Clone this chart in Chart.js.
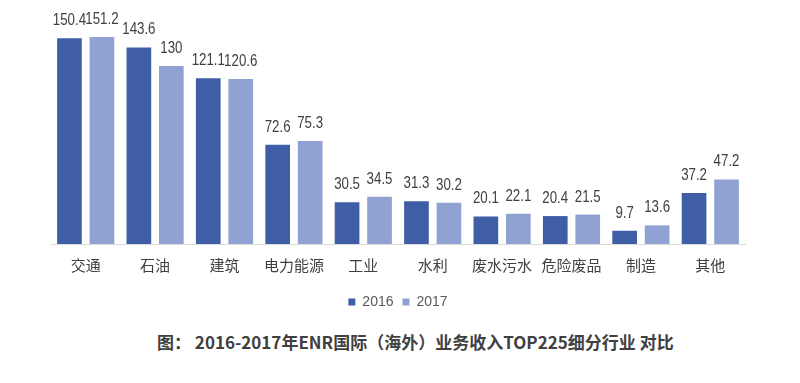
<!DOCTYPE html>
<html>
<head>
<meta charset="utf-8">
<script src="https://cdn.jsdelivr.net/npm/chart.js@4/dist/chart.umd.min.js"></script>
<style>
  html, body { margin: 0; padding: 0; background: #fff; }
  #wrap { position: relative; width: 800px; height: 383px; }
  #c { position: absolute; left: 0; top: 0; }
  #title { position: absolute; left: 157px; top: 329px; white-space: nowrap;
    font-family: "Noto Sans CJK SC", sans-serif; font-weight: bold; font-size: 17px; color: #404040; }
</style>
</head>
<body>
<div id="wrap">
  <canvas id="c" width="800" height="327"></canvas>
  <div id="title">图： 2016-2017年ENR国际（海外）业务收入TOP225细分行业 对比</div>
</div>
<script>
const categories = ["交通", "石油", "建筑", "电力能源", "工业", "水利", "废水污水", "危险废品", "制造", "其他"];
const series2016 = [150.4, 143.6, 121.1, 72.6, 30.5, 31.3, 20.1, 20.4, 9.7, 37.2];
const series2017 = [151.2, 130, 120.6, 75.3, 34.5, 30.2, 22.1, 21.5, 13.6, 47.2];
const seriesNames = ["2016", "2017"];

const valueLabels = {
  id: 'valueLabels',
  afterDatasetsDraw(chart) {
    const ctx = chart.ctx;
    chart.data.datasets.forEach((ds, di) => {
      const meta = chart.getDatasetMeta(di);
      meta.data.forEach((bar, i) => {
        ctx.save();
        ctx.font = '16px "Liberation Sans", sans-serif';
        ctx.fillStyle = '#404040';
        ctx.textAlign = 'center';
        ctx.textBaseline = 'alphabetic';
        ctx.translate(bar.x, bar.y - 13);
        ctx.scale(0.83, 1);
        ctx.fillText(String(ds.data[i]), 0, 0);
        ctx.restore();
      });
    });
  }
};

new Chart(document.getElementById('c'), {
  type: 'bar',
  data: {
    labels: categories,
    datasets: [
      { label: seriesNames[0], data: series2016, backgroundColor: '#3F5EA6' },
      { label: seriesNames[1], data: series2017, backgroundColor: '#8FA2D2' }
    ]
  },
  options: {
    responsive: false,
    animation: false,
    devicePixelRatio: 1,
    categoryPercentage: 0.936,
    barPercentage: 0.76,
    layout: { padding: { left: 51, right: 55, top: 25, bottom: 8 } },
    plugins: {
      legend: {
        position: 'bottom',
        labels: {
          boxWidth: 7, boxHeight: 7, padding: 9,
          color: '#595959',
          font: { family: '"Liberation Sans", sans-serif', size: 14 }
        }
      },
      tooltip: { enabled: false },
      title: { display: false }
    },
    scales: {
      x: {
        grid: { display: false, drawTicks: false },
        border: { display: true, color: '#D9D9D9', width: 1 },
        ticks: {
          color: '#404040', padding: 12,
          font: { family: '"Noto Sans CJK SC", sans-serif', size: 15 }
        }
      },
      y: {
        display: false,
        min: 0, max: 160
      }
    }
  },
  plugins: [valueLabels]
});
</script>
</body>
</html>
